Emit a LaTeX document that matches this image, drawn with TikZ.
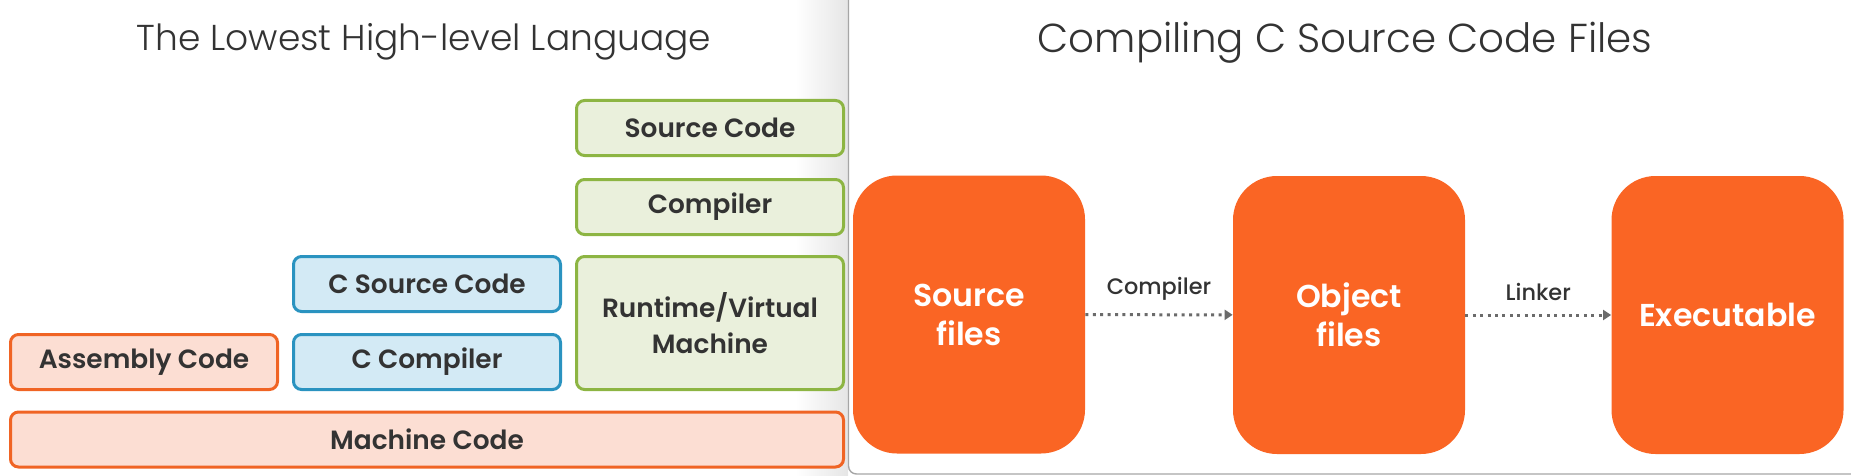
\documentclass[tikz,border=0pt]{standalone}
\usepackage{fontspec}
\setmainfont{Poppins}[UprightFont=* Medium, BoldFont=* SemiBold]
\newfontfamily\titlefont{Poppins}[UprightFont=* Light]
\usetikzlibrary{arrows.meta}

\definecolor{greenfill}{HTML}{EAF0DC}
\definecolor{greenline}{HTML}{8DB543}
\definecolor{bluefill}{HTML}{D3EAF5}
\definecolor{blueline}{HTML}{2A93C0}
\definecolor{orangefill}{HTML}{FCDED3}
\definecolor{orangeline}{HTML}{F06424}
\definecolor{bigorange}{HTML}{FA6524}
\definecolor{textgray}{HTML}{333333}
\definecolor{arrowgray}{HTML}{6B6B6B}

\begin{document}
\begin{tikzpicture}[x=0.5pt, y=-0.5pt,
    box/.style={draw, rounded corners=4pt, line width=1.5pt, inner sep=0pt,
      minimum width=133.5pt, minimum height=27.5pt, text=textgray,
      font=\bfseries\fontsize{13.2}{18}\selectfont, align=center},
    greenbox/.style={box, draw=greenline, fill=greenfill},
    bluebox/.style={box, draw=blueline, fill=bluefill},
    orangebox/.style={box, draw=orangeline, fill=orangefill},
    bigbox/.style={fill=bigorange, rounded corners=22pt, inner sep=0pt,
      minimum width=116pt, minimum height=139pt, text=white,
      font=\bfseries\fontsize{15.8}{19.5}\selectfont, align=center},
    flow/.style={draw=arrowgray, line width=1.5pt, dash pattern=on 1.5pt off 2.2pt,
      -{Triangle[length=4pt,width=5pt]}},
    flowlabel/.style={text=textgray, font=\fontsize{11.2}{13}\selectfont},
    title/.style={text=textgray}]

    \useasboundingbox (0,0) rectangle (1851,476);

    % Left panel shadow
    \shade[left color=white, right color=gray!20] (795,0) rectangle (848,476);

    % Right panel
    \draw[gray!70, line width=0.7pt, fill=white, rounded corners=4pt]
      (848.5,-4) -- (848.5,474) -- (1851,474);

    % Titles
    \node[title, font={\titlefont\fontsize{18}{22}\selectfont}] (lefttitle) at (424,42) {The Lowest High-level Language};
    \node[title, font={\titlefont\fontsize{20.2}{24}\selectfont}] (righttitle) at (1345,43) {Compiling C Source Code Files};

    % The language stack
    \node[greenbox] (srccode) at (710,128) {Source Code};
    \node[greenbox] (compiler) at (710,207) {Compiler};
    \node[greenbox, minimum height=66.5pt] (runtime) at (710,323) {Runtime/Virtual\\Machine};
    \node[bluebox] (csrc) at (427,284) {C Source Code};
    \node[bluebox] (ccomp) at (427,362) {C Compiler};
    \node[orangebox] (asm) at (144,362) {Assembly Code};
    \node[orangebox, minimum width=416.5pt] (machine) at (427,439.5) {Machine Code};

    % Compilation steps
    \node[bigbox] (srcfiles) at (969,314.5) {Source\\files};
    \node[bigbox] (objfiles) at (1349,315) {Object\\files};
    \node[bigbox] (exe) at (1727.5,315) {Executable};

    \draw[flow] (srcfiles) -- node[flowlabel, above=3pt] (complabel) {Compiler} (objfiles);
    \draw[flow] (objfiles) -- node[flowlabel, above=3pt] (linklabel) {Linker} (exe);

\end{tikzpicture}
\end{document}
